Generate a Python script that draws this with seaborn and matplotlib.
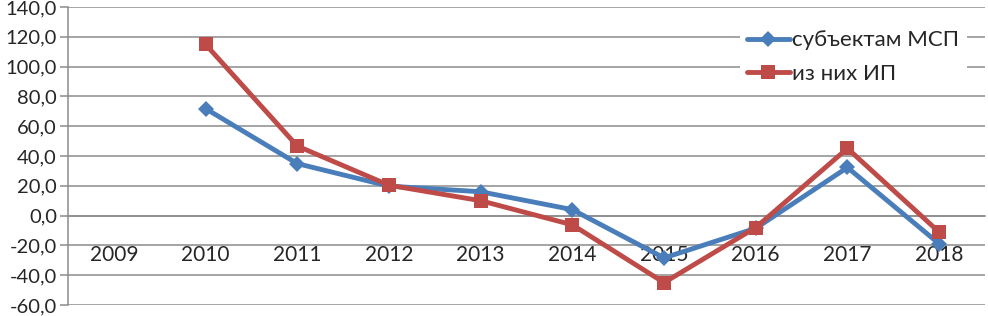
import pandas as pd
import numpy as np
import matplotlib
matplotlib.use('Agg')
import matplotlib.pyplot as plt
import seaborn as sns
from matplotlib.ticker import FuncFormatter, MultipleLocator

# data
years = [2009, 2010, 2011, 2012, 2013, 2014, 2015, 2016, 2017, 2018]
msp = [np.nan, 71.8, 34.9, 19.8, 16.0, 4.0, -28.4, -8.5, 32.3, -18.9]
ip = [np.nan, 114.9, 46.7, 20.4, 10.0, -6.2, -45.0, -8.0, 45.1, -11.1]
label_msp = 'субъектам МСП'
label_ip = 'из них ИП'

df = pd.DataFrame({'year': years, 'msp': msp, 'ip': ip})

sns.set_style('white')
plt.rcParams['font.family'] = ['Lato', 'Open Sans', 'DejaVu Sans']
plt.rcParams['font.size'] = 15

fig = plt.figure(figsize=(9.88, 3.16), dpi=100)
ax = fig.add_axes([68 / 988, 1 - 305 / 316, 917 / 988, 298 / 316])

grid_c = '#8c8c8c'
blue = '#4a7ebb'
red = '#be4b48'

sns.lineplot(data=df, x='year', y='msp', ax=ax, color=blue, lw=3.5,
             marker='D', markersize=8, markeredgewidth=0, label=label_msp, zorder=3)
sns.lineplot(data=df, x='year', y='ip', ax=ax, color=red, lw=3.5,
             marker='s', markersize=9.5, markeredgewidth=0, label=label_ip, zorder=4)

ax.set_xlim(2008.5, 2018.5)
ax.set_ylim(-60, 140)
ax.yaxis.set_major_locator(MultipleLocator(20))
ax.yaxis.set_major_formatter(FuncFormatter(lambda v, p: f'{v:.1f}'.replace('.', ',')))
ax.grid(axis='y', color=grid_c, lw=1.1)
ax.set_axisbelow(True)

ax.set_xticks(years)
ax.set_xticklabels([str(y) for y in years])
ax.set_xticks(np.arange(2008.5, 2019, 1), minor=True)
ax.tick_params(axis='x', which='major', length=0, pad=21, labelsize=15)
ax.tick_params(axis='x', which='minor', length=6, width=1.1, color=grid_c, direction='out')
ax.tick_params(axis='y', which='major', length=6, width=1.1, color=grid_c,
               direction='out', left=True, pad=2, labelsize=14.5)

for s in ['top', 'right']:
    ax.spines[s].set_visible(False)
ax.spines['left'].set_color(grid_c)
ax.spines['left'].set_linewidth(1.1)
ax.spines['bottom'].set_position(('data', 0))
ax.spines['bottom'].set_color(grid_c)
ax.spines['bottom'].set_linewidth(1.1)

ax.set_xlabel('')
ax.set_ylabel('')

leg = ax.legend(loc='upper right', bbox_to_anchor=(0.992, 0.985), frameon=True,
                fancybox=False, edgecolor='none', facecolor='white', framealpha=1,
                fontsize=16, handlelength=1.9, handletextpad=0.1,
                labelspacing=0.6, borderpad=0.35)

fig.savefig('out.png', dpi=100)
